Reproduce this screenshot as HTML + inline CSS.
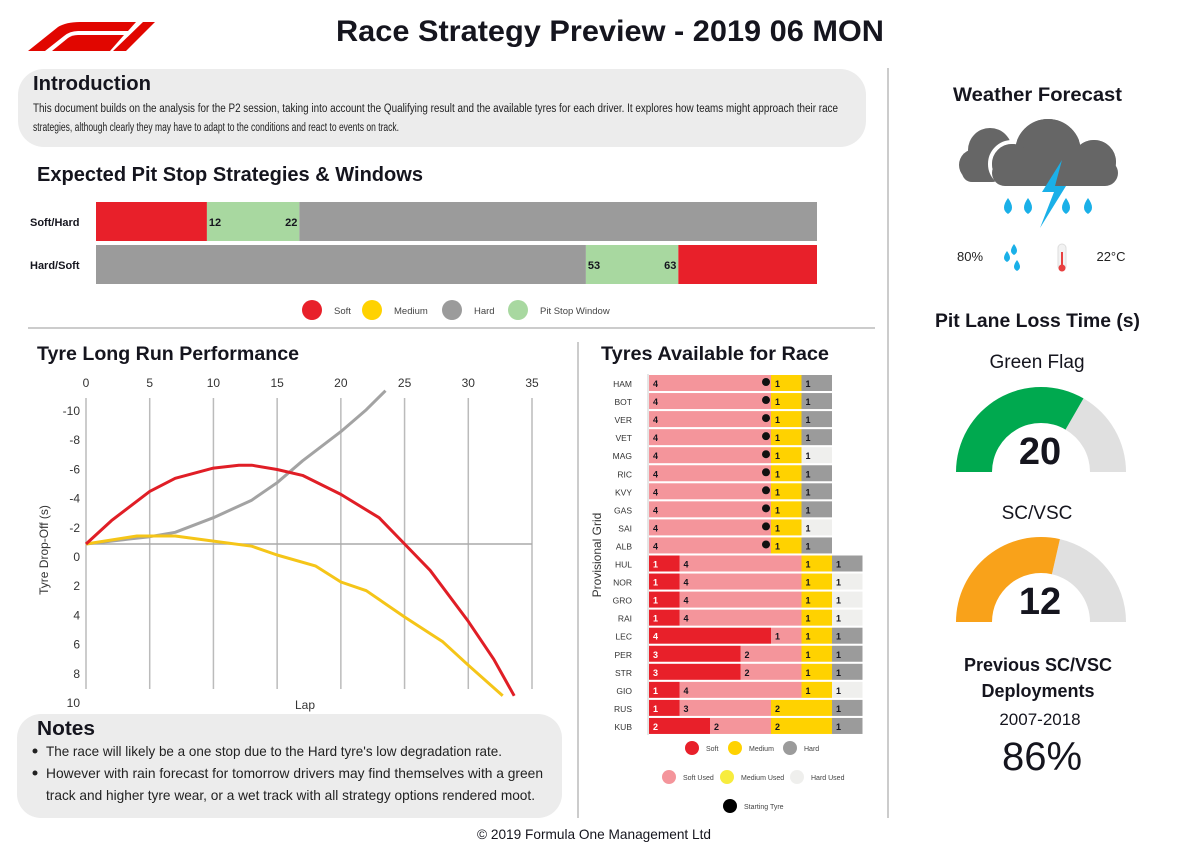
<!DOCTYPE html>
<html><head><meta charset="utf-8"><style>
html,body{margin:0;padding:0;background:#fff;width:1200px;height:850px;overflow:hidden}
svg{display:block;font-family:"Liberation Sans",sans-serif}
.h{font-weight:bold;fill:#15151e}
</style></head><body>
<svg id="page" width="1200" height="850" viewBox="0 0 1200 850">
<g fill="#e10600">
<path d="M28,51 L58,27 Q66,22 80,22 L136,22 L128,31 L78,31 Q70,31 64,36 L45,51 Z"/>
<path d="M52,51 L68,38 Q72,35 78,35 L124,35 L110,51 Z"/>
<path d="M113,51 L143,22 L155,22 L126,51 Z"/>
</g>
<text x="336" y="41" class="h" font-size="30" textLength="548" lengthAdjust="spacingAndGlyphs">Race Strategy Preview - 2019 06 MON</text>
<line x1="888" y1="68" x2="888" y2="818" stroke="#ccc" stroke-width="2"/>
<rect x="18" y="69" width="848" height="78" rx="26" fill="#ececec"/>
<text x="33" y="90" class="h" font-size="20" textLength="118" lengthAdjust="spacingAndGlyphs">Introduction</text>
<text x="33" y="112" font-size="11.5" fill="#222" textLength="805" lengthAdjust="spacingAndGlyphs">This document builds on the analysis for the P2 session, taking into account the Qualifying result and the available tyres for each driver. It explores how teams might approach their race</text>
<text x="33" y="131" font-size="11.5" fill="#222" textLength="366" lengthAdjust="spacingAndGlyphs">strategies, although clearly they may have to adapt to the conditions and react to events on track.</text>
<text x="37" y="181" class="h" font-size="20" textLength="386" lengthAdjust="spacingAndGlyphs">Expected Pit Stop Strategies &amp; Windows</text>
<g id="strat"></g>
<line x1="28" y1="328" x2="875" y2="328" stroke="#bbb" stroke-width="1.5"/>
<line x1="578" y1="342" x2="578" y2="818" stroke="#ccc" stroke-width="2"/>
<text x="37" y="360" class="h" font-size="19" textLength="262" lengthAdjust="spacingAndGlyphs">Tyre Long Run Performance</text>
<g id="lr"></g>
<text x="601" y="360" class="h" font-size="19" textLength="228" lengthAdjust="spacingAndGlyphs">Tyres Available for Race</text>
<g id="ty"></g>
<rect x="17" y="714" width="545" height="104" rx="24" fill="#ececec"/>
<text x="37" y="735" class="h" font-size="20" textLength="58" lengthAdjust="spacingAndGlyphs">Notes</text>
<circle cx="35" cy="751" r="2.5" fill="#222"/><circle cx="35" cy="773" r="2.5" fill="#222"/>
<text x="46" y="756" font-size="14" fill="#222" textLength="456" lengthAdjust="spacingAndGlyphs">The race will likely be a one stop due to the Hard tyre's low degradation rate.</text>
<text x="46" y="778" font-size="14" fill="#222" textLength="497" lengthAdjust="spacingAndGlyphs">However with rain forecast for tomorrow drivers may find themselves with a green</text>
<text x="46" y="800" font-size="14" fill="#222" textLength="489" lengthAdjust="spacingAndGlyphs">track and higher tyre wear, or a wet track with all strategy options rendered moot.</text>
<text x="477" y="839" font-size="14" fill="#15151e" textLength="234" lengthAdjust="spacingAndGlyphs">© 2019 Formula One Management Ltd</text>
<text x="953" y="101" class="h" font-size="19" textLength="169" lengthAdjust="spacingAndGlyphs">Weather Forecast</text>
<g>
<g fill="#666">
<circle cx="990" cy="150" r="22"/><circle cx="975" cy="165" r="16"/><rect x="962" y="160" width="40" height="22" rx="10"/>
</g>
<g fill="#666" stroke="#fff" stroke-width="4">
<circle cx="1048" cy="152" r="35"/><circle cx="1012" cy="164" r="22"/><circle cx="1094" cy="162" r="24"/>
</g>
<g fill="#666">
<circle cx="1048" cy="152" r="33"/><circle cx="1012" cy="164" r="20"/><circle cx="1094" cy="162" r="22"/><rect x="992" y="160" width="126" height="26" rx="13"/>
</g>
<path d="M1062,160 L1042,192 L1054,192 L1040,228 L1066,186 L1055,186 L1062,160 Z" fill="#1ab0e8"/>
<g fill="#1ab0e8"><path d="M1008,198 q-8,11 0,16 q8,-5 0,-16z"/><path d="M1028,198 q-8,11 0,16 q8,-5 0,-16z"/><path d="M1066,198 q-8,11 0,16 q8,-5 0,-16z"/><path d="M1088,198 q-8,11 0,16 q8,-5 0,-16z"/></g>
</g>
<text x="970" y="261" text-anchor="middle" font-size="13" fill="#222">80%</text>
<g fill="#1ab0e8"><path d="M1014,244 q-6,8 0,11 q6,-3 0,-11z"/><path d="M1007,251 q-6,8 0,11 q6,-3 0,-11z"/><path d="M1017,260 q-6,8 0,11 q6,-3 0,-11z"/></g>
<g><rect x="1058" y="244" width="8" height="26" rx="4" fill="#f2f2f2" stroke="#ddd"/><line x1="1062" y1="252" x2="1062" y2="266" stroke="#e84040" stroke-width="2"/><circle cx="1062" cy="268" r="3.5" fill="#e84040"/></g>
<text x="1111" y="261" text-anchor="middle" font-size="13" fill="#222">22°C</text>
<text x="935" y="327" class="h" font-size="19" textLength="205" lengthAdjust="spacingAndGlyphs">Pit Lane Loss Time (s)</text>
<text x="1037" y="368" text-anchor="middle" font-size="19" fill="#15151e">Green Flag</text>
<g id="g1"></g>
<text x="1040" y="464" text-anchor="middle" class="h" font-size="38">20</text>
<text x="1037" y="519" text-anchor="middle" font-size="19" fill="#15151e">SC/VSC</text>
<g id="g2"></g>
<text x="1040" y="614" text-anchor="middle" class="h" font-size="38">12</text>
<text x="1038" y="671" text-anchor="middle" class="h" font-size="18">Previous SC/VSC</text>
<text x="1038" y="697" text-anchor="middle" class="h" font-size="18">Deployments</text>
<text x="1040" y="725" text-anchor="middle" font-size="17" fill="#15151e">2007-2018</text>
<text x="1042" y="770" text-anchor="middle" font-size="40" fill="#15151e">86%</text>
</svg>
<script>
const NS='http://www.w3.org/2000/svg';
function mk(p,t,a,txt){const e=document.createElementNS(NS,t);for(const k in a)e.setAttribute(k,a[k]);if(txt!==undefined)e.textContent=txt;p.appendChild(e);return e;}
const C={S:'#e8202a',SU:'#f4959b',M:'#ffd200',MU:'#f7ec3e',H:'#9b9b9b',HU:'#efefed',W:'#a8d8a0'};

const stratNames=['Soft/Hard','Hard/Soft'];
const raceLaps=78;
const stratFirst=['S','H'];
const stratSecond=['H','S'];
const windowStart=[12,53];
const windowEnd=[22,63];
const sx=l=>96+l*(721/raceLaps);
const strat=document.getElementById('strat');
stratNames.forEach((n,i)=>{
  const y=202+i*43, h=39;
  let t=mk(strat,'text',{x:30,y:y+24,'font-size':11,'font-weight':'bold',fill:'#15151e'},n);
  
  let r=mk(strat,'rect',{x:sx(0),y:y,width:sx(windowStart[i])-sx(0),height:h,fill:C[stratFirst[i]]});
  
  r=mk(strat,'rect',{x:sx(windowStart[i]),y:y,width:sx(windowEnd[i])-sx(windowStart[i]),height:h,fill:C.W});
  
  r=mk(strat,'rect',{x:sx(windowEnd[i]),y:y,width:sx(raceLaps)-sx(windowEnd[i]),height:h,fill:C[stratSecond[i]]});
  
  mk(strat,'text',{x:sx(windowStart[i])+2,y:y+24,'font-size':11,'font-weight':'bold',fill:'#15151e'},windowStart[i]);
  mk(strat,'text',{x:sx(windowEnd[i])-2,y:y+24,'font-size':11,'font-weight':'bold',fill:'#15151e','text-anchor':'end'},windowEnd[i]);
});
const stratLegendLabels=['Soft','Medium','Hard','Pit Stop Window'];
const stratLegendColors=[C.S,C.M,C.H,C.W];
const stratLegendX=[312,372,452,518];
stratLegendLabels.forEach((l,i)=>{
  let c=mk(strat,'circle',{cx:stratLegendX[i],cy:310,r:10,fill:stratLegendColors[i]});
  
  mk(strat,'text',{x:stratLegendX[i]+22,y:314,'font-size':9.5,fill:'#444'},l);
});

const xTicks=[0,5,10,15,20,25,30,35];
const yTicks=[-10,-8,-6,-4,-2,0,2,4,6,8,10];
const softLaps=[0,2,5,7,10,12,13,15,17,20,23,25,27,30,32,33.6];
const softVals=[0,-1.6,-3.6,-4.5,-5.2,-5.4,-5.4,-5.1,-4.7,-3.4,-1.8,0,1.8,5.3,7.9,10.4];
const hardLaps=[0,3,5,7,10,13,15,17,20,22,23.5];
const hardVals=[0,-0.3,-0.5,-0.8,-1.8,-3,-4.2,-5.7,-7.7,-9.2,-10.5];
const medLaps=[0,4,7,10,13,15,18,20,22,25,28,30,32.7];
const medVals=[0,-0.55,-0.55,-0.2,0.15,0.75,1.5,2.6,3.2,5.0,6.7,8.3,10.4];
const lx=v=>86+v*(446/35);
const ly=v=>544+v*14.6;
const lr=document.getElementById('lr');
mk(lr,'defs',{}).innerHTML='<clipPath id="lrc"><rect x="60" y="388" width="500" height="312"/></clipPath>';
xTicks.forEach(t=>{
  let l=mk(lr,'line',{x1:lx(t),y1:398,x2:lx(t),y2:689,stroke:'#bbb','stroke-width':1.5});
  
  let tx=mk(lr,'text',{x:lx(t),y:387,'text-anchor':'middle','font-size':12,fill:'#333'},t);
  
});
yTicks.forEach(t=>{
  let tx=mk(lr,'text',{x:80,y:ly(t)+13+4,'text-anchor':'end','font-size':12,fill:'#333'},t);
  
});
mk(lr,'line',{x1:lx(0),y1:ly(0),x2:lx(35),y2:ly(0),stroke:'#aaa','stroke-width':1.5});
let yt=mk(lr,'text',{transform:'translate(48,550) rotate(-90)','text-anchor':'middle','font-size':12,fill:'#333'},'Tyre Drop-Off (s)');

let xt=mk(lr,'text',{x:305,y:709,'text-anchor':'middle','font-size':12,fill:'#333'},'Lap');

[[hardLaps,hardVals,'#a3a3a3','hard-curve'],[medLaps,medVals,'#f5c518','medium-curve'],[softLaps,softVals,'#e01e26','soft-curve']].forEach(s=>{
  const d=s[0].map((x,i)=>(i?'L':'M')+lx(x).toFixed(1)+','+ly(s[1][i]).toFixed(1)).join(' ');
  let p=mk(lr,'path',{d:d,fill:'none',stroke:s[2],'stroke-width':3,'stroke-linejoin':'round','clip-path':'url(#lrc)'});
  
});

const drivers=['HAM','BOT','VER','VET','MAG','RIC','KVY','GAS','SAI','ALB','HUL','NOR','GRO','RAI','LEC','PER','STR','GIO','RUS','KUB'];
const softNew=[0,0,0,0,0,0,0,0,0,0,1,1,1,1,4,3,3,1,1,2];
const softUsed=[4,4,4,4,4,4,4,4,4,4,4,4,4,4,1,2,2,4,3,2];
const medNew=[1,1,1,1,1,1,1,1,1,1,1,1,1,1,1,1,1,1,2,2];
const hardNew=[1,1,1,1,0,1,1,1,0,1,1,0,0,0,1,1,1,0,1,1];
const hardUsed=[0,0,0,0,1,0,0,0,1,0,0,1,1,1,0,0,0,1,0,0];
const startOnUsed=[1,1,1,1,1,1,1,1,1,1,0,0,0,0,0,0,0,0,0,0];
const ty=document.getElementById('ty');
const tu=30.5, tx0=649;
drivers.forEach((d,i)=>{
  const y=375+i*18.05, h=16;
  let lab=mk(ty,'text',{x:632,y:y+12,'text-anchor':'end','font-size':8.5,fill:'#333'},d);
  
  let x=tx0;
  [[softNew[i],C.S,'#fff','soft-new-segment'],[softUsed[i],C.SU,'#15151e','soft-used-segment'],[medNew[i],C.M,'#15151e','medium-segment'],[hardNew[i],C.H,'#15151e','hard-segment'],[hardUsed[i],C.HU,'#15151e','hard-used-segment']].forEach(s=>{
    if(!s[0])return;
    let r=mk(ty,'rect',{x:x,y:y,width:s[0]*tu,height:h,fill:s[1]});
    
    mk(ty,'text',{x:x+4,y:y+12,'font-size':9,'font-weight':'bold',fill:s[2]},s[0]);
    x+=s[0]*tu;
    if(s[3]==='soft-used-segment'&&startOnUsed[i]){
      let c=mk(ty,'circle',{cx:x-5,cy:y+7,r:4,fill:'#111'});
      
    }
  });
});
mk(ty,'line',{x1:648,y1:374,x2:648,y2:735,stroke:'#ccc','stroke-width':1});
let pg=mk(ty,'text',{transform:'translate(601,555) rotate(-90)','text-anchor':'middle','font-size':12,fill:'#333'},'Provisional Grid');

const tyLegendLabels=['Soft','Medium','Hard','Soft Used','Medium Used','Hard Used','Starting Tyre'];
const tyLegendColors=[C.S,C.M,C.H,C.SU,C.MU,C.HU,'#000'];
const tyLegendX=[692,735,790,669,727,797,730];
const tyLegendY=[748,748,748,777,777,777,806];
tyLegendLabels.forEach((l,i)=>{
  let c=mk(ty,'circle',{cx:tyLegendX[i],cy:tyLegendY[i],r:7,fill:tyLegendColors[i]});
  
  mk(ty,'text',{x:tyLegendX[i]+14,y:tyLegendY[i]+3,'font-size':7,fill:'#444'},l);
});

const gaugeValues=[20,12];
const gaugeMax=[30,21];
function arc(cx,cy,r0,r1,a0,a1){
  const p=(r,a)=>[cx-r*Math.cos(a),cy-r*Math.sin(a)];
  const A=p(r1,a0),B=p(r1,a1),Cc=p(r0,a1),D=p(r0,a0);
  return `M${A} A${r1},${r1} 0 0 1 ${B} L${Cc} A${r0},${r0} 0 0 0 ${D} Z`;
}
[['g1',472,'#00a94f'],['g2',622,'#f9a21a']].forEach((g,i)=>{
  const el=document.getElementById(g[0]);
  const f=gaugeValues[i]/gaugeMax[i]*Math.PI;
  let b=mk(el,'path',{d:arc(1041,g[1],49,85,f,Math.PI),fill:'#e0e0e0'});
  
  let v=mk(el,'path',{d:arc(1041,g[1],49,85,0,f),fill:g[2]});
  
});
</script>
</body></html>
